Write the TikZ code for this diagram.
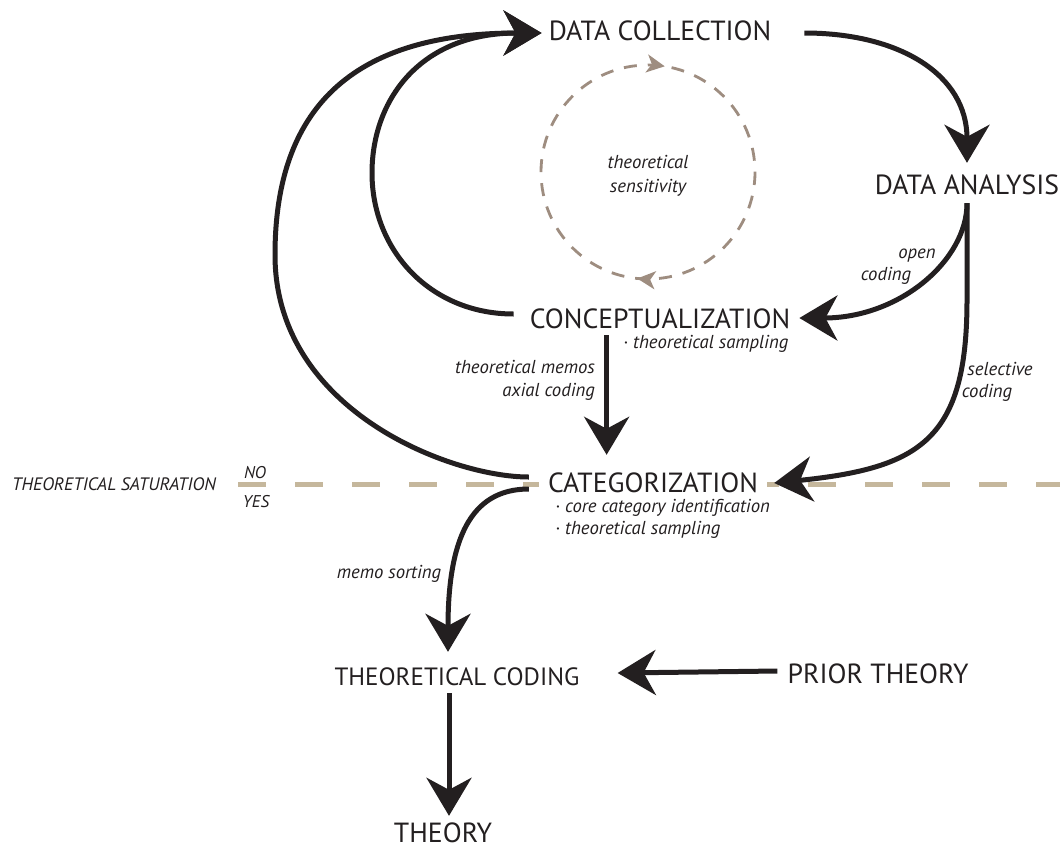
\documentclass[tikz,border=0pt]{standalone}
\usepackage{fontspec}
\setmainfont{PT Sans}
\usetikzlibrary{arrows.meta,calc,decorations.markings}
\definecolor{ink}{RGB}{35,31,32}
\definecolor{satline}{RGB}{197,183,156}
\definecolor{loopc}{RGB}{158,141,128}

\tikzset{
  big/.style={font=\fontsize{27.7}{32}\selectfont, text=ink, inner sep=0pt,
              text height=18pt, text depth=0pt, anchor=base},
  note/.style={font=\fontsize{18.7}{22}\selectfont\itshape, text=ink, inner sep=0pt, anchor=base},
  small/.style={font=\fontsize{17}{20}\selectfont\itshape, text=ink, inner sep=0pt, anchor=base},
  tip/.style={-{Stealth[length=38pt,width=45pt,inset=12pt]}},
  flow/.style={draw=ink, line width=5pt, tip},
}

\begin{document}
\begin{tikzpicture}[x=1pt,y=-1pt]
\fill[white] (0,0) rectangle (1060,852);
\useasboundingbox (0,0) rectangle (1060,852);

% saturation threshold
\draw[satline, line width=5pt, dash pattern=on 28pt off 29pt] (238,484) -- (1060,484);
\node[note, font=\fontsize{18}{21}\selectfont\itshape] (sat) at (114,490) {THEORETICAL SATURATION};
\node[small] (no) at (255,478) {NO};
\node[small] (yes) at (256,507) {YES};

% stages
\node[big] (dc) at (660,40) {DATA COLLECTION};
\node[big] (da) at (967,194) {DATA ANALYSIS};
\node[big] (co) at (660,328) {CONCEPTUALIZATION};
\node[big, fill=white, inner xsep=9pt, inner ysep=1pt] (ca) at (653,492) {CATEGORIZATION};
\node[big, font=\fontsize{25}{30}\selectfont] (tc) at (457,685) {THEORETICAL CODING};
\node[big] (pt) at (878,683) {PRIOR THEORY};
\node[big] (th) at (443,842) {THEORY};

% annotations
\node[note] (ts1) at (648,168) {theoretical};
\node[note] (ts2) at (648,192) {sensitivity};
\node[note] (oc1) at (917,258) {open};
\node[note] (oc2) at (886,280) {coding};
\node[note] (sc1) at (1000,375) {selective};
\node[note] (sc2) at (987,397) {coding};
\node[note, anchor=base east] (tm) at (595,373) {theoretical memos};
\node[note, anchor=base east] (ax) at (595,396) {axial coding};
\node[note, anchor=base west] (cs) at (623,348) {· theoretical sampling};
\node[note, anchor=base west] (cc) at (555,512) {· core category identification};
\node[note, anchor=base west] (cs2) at (555,534) {· theoretical sampling};
\node[note] (ms) at (389,578) {memo sorting};

% theoretical sensitivity loop, running clockwise
\draw[loopc, line width=2.8pt, dash pattern=on 13pt off 11pt,
      postaction={decorate},
      decoration={markings,
        mark=at position 0.266 with {\arrow{Stealth[length=18pt,width=18pt,inset=5pt]}},
        mark=at position 0.775 with {\arrow{Stealth[length=18pt,width=18pt,inset=5pt]}}}]
  (648,172) circle[radius=107];

% connectors
\draw[flow] ($(dc.east)+(33,2)$) .. controls (900,33) and (967,75) .. ($(da.north)+(0,-13)$);
\draw[flow] ($(da.south)+(0,9)$) .. controls (967,260) and (900,318) .. ($(co.east)+(9,-1)$);
\draw[flow] ($(da.south)+(0,9)$) -- (967,300) .. controls (967,440) and (920,468) .. ($(ca.east)+(7,0)$);
\draw[flow] ($(co.west)+(-16,-5)$) .. controls (430,314) and (372,250) .. (372,173)
            .. controls (372,100) and (420,33) .. ($(dc.west)+(-7,2)$);
\draw[flow] ($(ca.west)+(-10,-6)$) .. controls (450,477) and (275,410) .. (275,255)
            .. controls (275,120) and (340,33) .. ($(dc.west)+(-7,2)$);
\draw[flow] ($(co.south west)+(77,7)$) coordinate (cod) -- ($(cod |- ca.north)+(0,-18)$);
\draw[flow] ($(ca.west)+(-10,6)$) .. controls (470,489) and (448,540) .. ($(tc.north)+(-9,-15)$);
\draw[flow] ($(pt.west)+(-10,-3)$) -- ($(tc.east)+(38,-3)$);
\draw[flow] ($(tc.south)+(-8,8)$) coordinate (tcd) -- ($(tcd |- th.north)+(0,-8)$);
\end{tikzpicture}
\end{document}
